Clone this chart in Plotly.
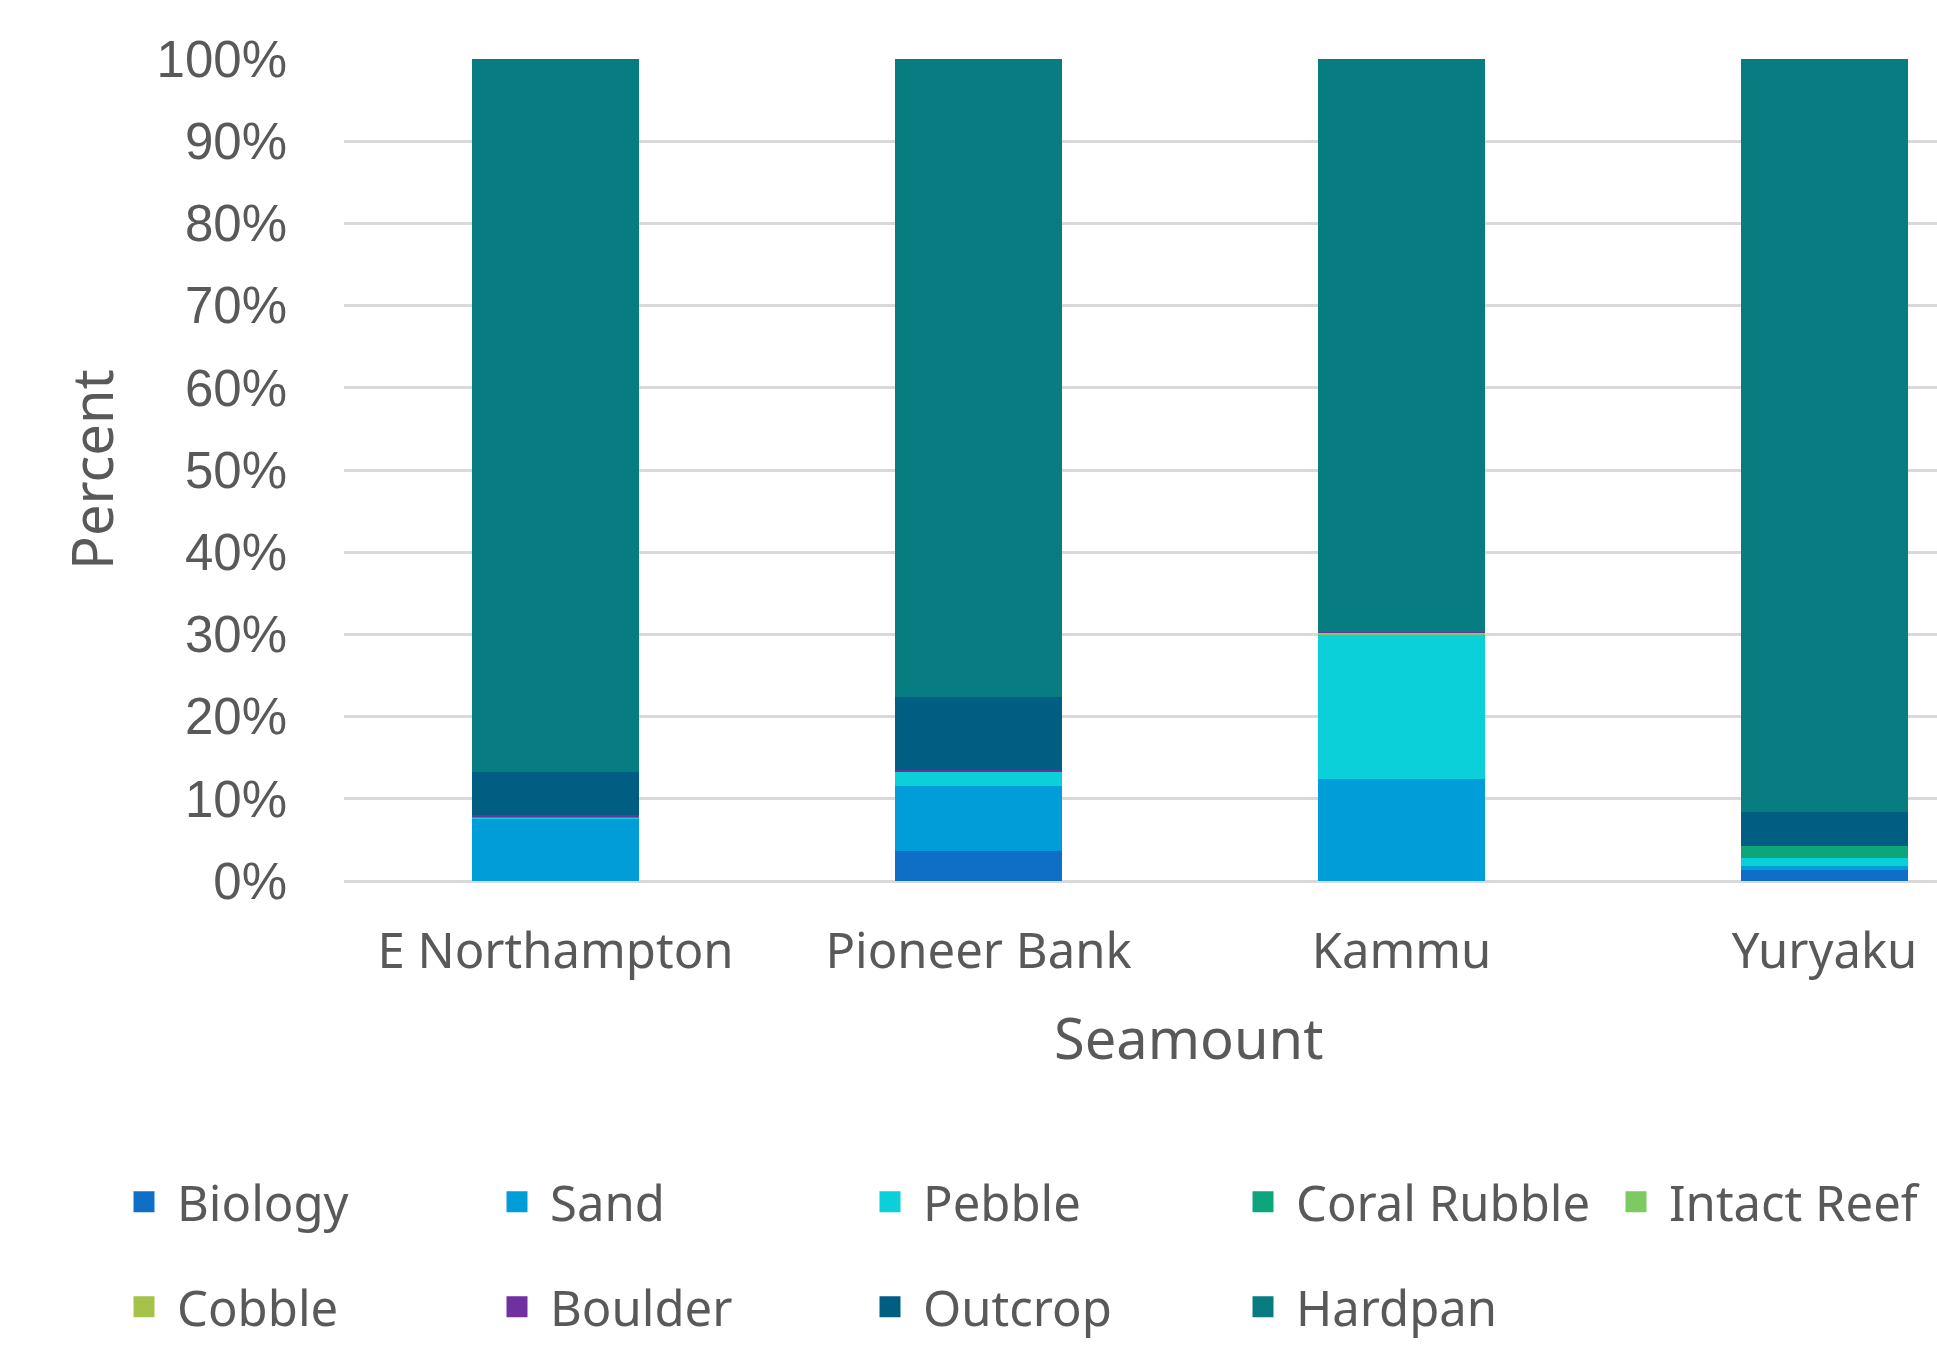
import plotly.graph_objects as go

seamounts = ["E Northampton", "Pioneer Bank", "Kammu", "Yuryaku"]
substrates = ["Biology", "Sand", "Pebble", "Coral Rubble", "Intact Reef",
              "Cobble", "Boulder", "Outcrop", "Hardpan"]
colors = ["#0F6FC6", "#009DD9", "#0BD0D9", "#0DA67C", "#7CCA62",
          "#A5C249", "#7030A0", "#005E82", "#077D82"]

biology      = [0.0, 3.6, 0.0, 1.3]
sand         = [7.6, 7.9, 12.4, 0.55]
pebble       = [0.15, 1.85, 17.6, 0.95]
coral_rubble = [0.1, 0.0, 0.0, 1.45]
intact_reef  = [0.0, 0.0, 0.1, 0.0]
cobble       = [0.0, 0.0, 0.1, 0.0]
boulder      = [0.15, 0.15, 0.15, 0.0]
outcrop      = [5.3, 8.9, 0.0, 4.15]
hardpan      = [86.7, 77.6, 69.65, 91.6]

series = [biology, sand, pebble, coral_rubble, intact_reef,
          cobble, boulder, outcrop, hardpan]

TXT = "#595959"
W, H = 1937, 1351
L, T, B = 344, 59, 470
plot_w = W - L
plot_h = H - T - B

fig = go.Figure()
for name, vals, col in zip(substrates, series, colors):
    fig.add_trace(go.Bar(x=seamounts, y=vals, name=name, marker_color=col,
                         marker_line_width=0, showlegend=False))

# legend entries (two rows as in the reference)
for i, (name, col) in enumerate(zip(substrates, colors)):
    fig.add_trace(go.Scatter(
        x=[None], y=[None], mode="markers", name=name,
        marker=dict(symbol="square", size=16, color=col,
                    line=dict(color=col, width=5)),
        legend="legend" if i < 5 else "legend2", showlegend=True))

band = 423.0
x_hi = -0.5 + plot_w / band

leg_common = dict(orientation="h", xanchor="left", yanchor="middle",
                  x=(111 - L) / plot_w, bgcolor="rgba(0,0,0,0)",
                  traceorder="normal",
                  font=dict(family="Noto Sans", size=49, color=TXT),
                  itemwidth=56, entrywidth=302, entrywidthmode="pixels",
                  itemclick=False)

fig.update_layout(
    width=W, height=H,
    margin=dict(l=L, r=0, t=T, b=B, autoexpand=False),
    paper_bgcolor="white", plot_bgcolor="white",
    barmode="stack", bargap=0.603,
    font=dict(family="Noto Sans", color=TXT),
    legend=dict(y=(881 - 1202) / plot_h, **leg_common),
    legend2=dict(y=(881 - 1307) / plot_h, **leg_common),
    xaxis=dict(range=[-0.5, x_hi], showgrid=False, showline=False,
               ticks="", ticklabelstandoff=37,
               tickfont=dict(family="Noto Sans", size=49, color=TXT)),
    yaxis=dict(range=[0, 100], dtick=10, ticksuffix="%",
               showgrid=True, gridcolor="#D9D9D9", gridwidth=3,
               zeroline=True, zerolinecolor="#D9D9D9", zerolinewidth=3,
               showline=False, ticks="", ticklabelstandoff=56,
               tickfont=dict(family="Liberation Sans", size=51, color=TXT)),
    annotations=[
        dict(text="Seamount", xref="paper", yref="paper",
             x=(1188 - L) / plot_w, y=(881 - 1037) / plot_h,
             xanchor="center", yanchor="middle", showarrow=False,
             font=dict(family="Noto Sans", size=56, color=TXT)),
        dict(text="Percent", xref="paper", yref="paper", textangle=-90,
             x=(91 - L) / plot_w, y=0.5,
             xanchor="center", yanchor="middle", showarrow=False,
             font=dict(family="Noto Sans", size=56, color=TXT)),
    ],
)

fig.write_html("out.html")
